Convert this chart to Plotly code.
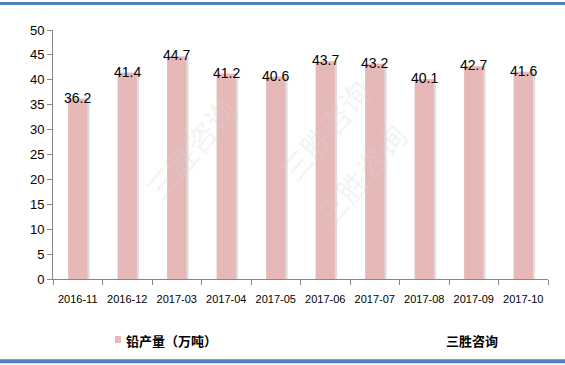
import plotly.graph_objects as go

categories = ["2016-11", "2016-12", "2017-03", "2017-04", "2017-05",
              "2017-06", "2017-07", "2017-08", "2017-09", "2017-10"]
values = [36.2, 41.4, 44.7, 41.2, 40.6, 43.7, 43.2, 40.1, 42.7, 41.6]
y_ticks = [0, 5, 10, 15, 20, 25, 30, 35, 40, 45, 50]
series_name = "铅产量（万吨）"
source_text = "三胜咨询"

bar_color = "#E6B9B8"
font_family = "Liberation Sans, Arial, sans-serif"
cjk = "Noto Sans CJK SC"

fig = go.Figure()

# shadow
fig.add_trace(go.Bar(
    x=categories, y=values, width=0.39, offset=-0.195 + 0.045,
    marker=dict(color="#DDDDDD", line=dict(width=0)),
    showlegend=False, hoverinfo="skip",
))
fig.add_trace(go.Bar(
    x=categories, y=values, width=0.39, offset=-0.195,
    marker=dict(color=bar_color, line=dict(width=0)),
    name=series_name, showlegend=False,
))

for c, v in zip(categories, values):
    fig.add_annotation(x=c, y=v, text=f"{v:.1f}", showarrow=False,
                       yanchor="middle", xanchor="center", yshift=1,
                       font=dict(family=font_family, size=14, color="#000000"))

# watermarks
for (px, py) in [(0.16, 0.78), (0.55, 0.85), (0.74, 0.42)]:
    fig.add_annotation(xref="paper", yref="paper", x=px, y=py, text="三胜咨询",
                       showarrow=False, textangle=-50,
                       font=dict(family=cjk, size=30, color="rgba(215,215,215,0.3)"))

# legend (custom)
fig.add_shape(type="rect", xref="paper", yref="paper",
              x0=(115 - 53) / 495, x1=(121 - 53) / 495,
              y0=(279 - 343) / 249, y1=(279 - 336) / 249,
              fillcolor=bar_color, line=dict(width=0))
fig.add_annotation(xref="paper", yref="paper", x=(124 - 53) / 495, y=(279 - 340) / 249,
                   text=f"<b>{series_name}</b>", showarrow=False, xanchor="left", yanchor="middle",
                   font=dict(family=cjk, size=13, color="#000000"))
fig.add_annotation(xref="paper", yref="paper", x=(444 - 53) / 495, y=(279 - 340) / 249,
                   text=f"<b>{source_text}</b>", showarrow=False, xanchor="left", yanchor="middle",
                   font=dict(family=cjk, size=13, color="#000000"))

# blue border lines
fig.add_shape(type="line", xref="paper", yref="paper", x0=-0.11, x1=1.04, y0=1.106, y1=1.106,
              line=dict(color="#4F81BD", width=3))
fig.add_shape(type="line", xref="paper", yref="paper", x0=-0.11, x1=1.04, y0=-0.33, y1=-0.33,
              line=dict(color="#4F81BD", width=4))

fig.update_layout(
    width=565, height=365,
    margin=dict(l=53, r=17, t=30, b=86),
    paper_bgcolor="white", plot_bgcolor="white",
    barmode="overlay",
    showlegend=False,
    xaxis=dict(type="category", showgrid=False, showline=True, linecolor="#868686",
               ticks="outside", tickson="boundaries", ticklen=5, tickcolor="#868686",
               tickangle=0, ticklabelstandoff=10,
               tickfont=dict(family=font_family, size=11, color="#000000"),
               range=[-0.5, 9.5]),
    yaxis=dict(range=[0, 50], tickvals=y_ticks, showgrid=False, showline=True,
               linecolor="#868686", ticks="outside", ticklen=5, tickcolor="#868686",
               tickfont=dict(family=font_family, size=13, color="#000000"), zeroline=False),
)

fig.write_html("out.html")
